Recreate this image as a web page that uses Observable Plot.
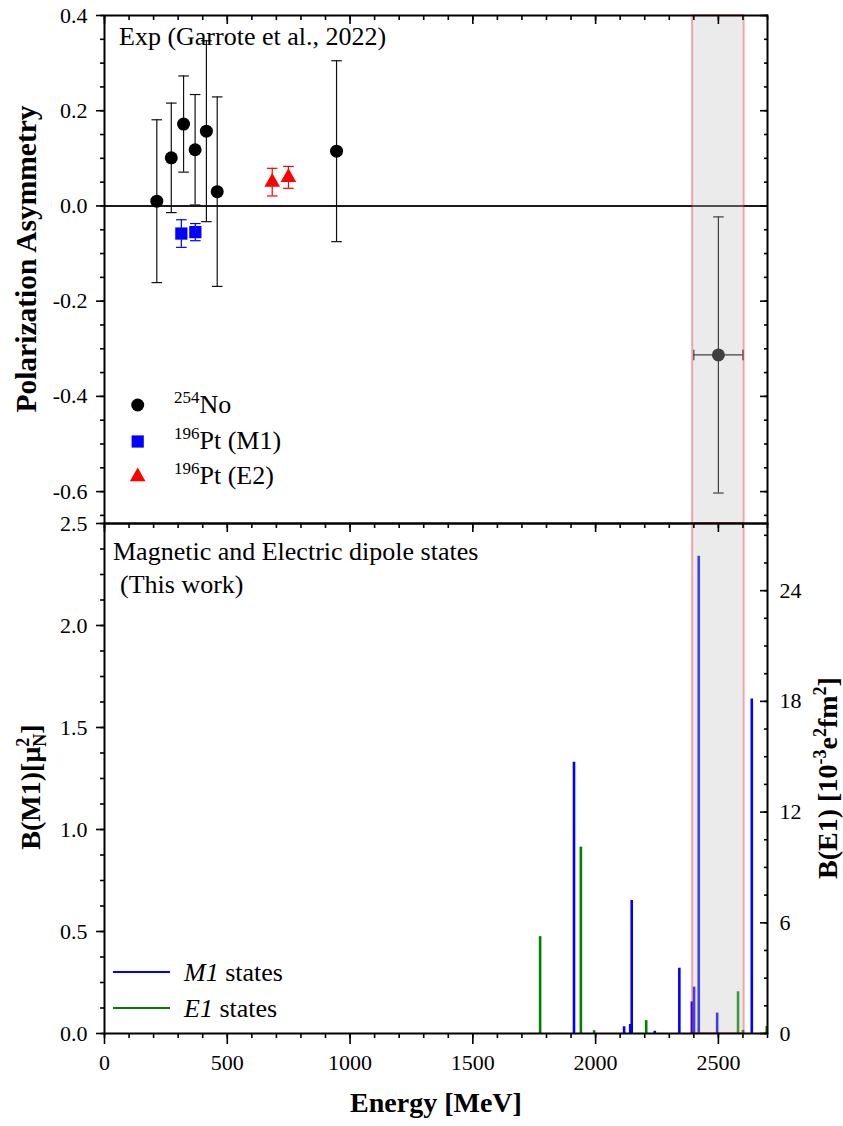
<!DOCTYPE html>
<html><head><meta charset="utf-8">
<script src="https://cdn.jsdelivr.net/npm/d3@7"></script>
<script src="https://cdn.jsdelivr.net/npm/@observablehq/plot@0.6"></script>
<style>
html,body{margin:0;padding:0;background:#fff;}
#wrap{position:relative;width:843px;height:1126px;font-family:"Liberation Serif",serif;}
#wrap > svg{display:block;overflow:visible;}
#wrap svg text, #wrap svg tspan, #wrap svg g{font-family:"Liberation Serif",serif !important;}
#ov{position:absolute;left:0;top:0;pointer-events:none;overflow:visible}
</style></head><body><div id="wrap"></div>
<script>
// ---------- data ----------
// 254No polarization asymmetry (Garrote et al., 2022)
const noEnergy = [213, 272, 322, 369, 415, 459, 945];
const noAsym   = [0.010, 0.101, 0.172, 0.118, 0.157, 0.030, 0.115];
const noErr    = [0.171, 0.115, 0.101, 0.116, 0.190, 0.199, 0.190];
// 196Pt (M1)
const ptM1Energy = [313, 370];
const ptM1Asym   = [-0.058, -0.055];
const ptM1Err    = [0.029, 0.018];
// 196Pt (E2)
const ptE2Energy = [683, 749];
const ptE2Asym   = [0.050, 0.060];
const ptE2Err    = [0.029, 0.023];
// point inside the shaded band
const newEnergy    = [2500];
const newEnergyErr = [100];
const newAsym      = [-0.313];
const newAsymErr   = [0.290];
// shaded energy band
const bandRange = [2395, 2605];
// M1 states: energy, B(M1) [muN^2]
const m1Energy   = [1912, 2116, 2141, 2147, 2241, 2341, 2392, 2401, 2420, 2495, 2636];
const m1Strength = [1.33, 0.033, 0.044, 0.652, 0.011, 0.32, 0.155, 0.227, 2.34, 0.10, 1.64];
// E1 states: energy, B(E1) [1e-3 e^2 fm^2]
const e1Energy   = [1774, 1940, 1994, 2206, 2580, 2600, 2697];
const e1Strength = [5.25, 10.1, 0.15, 0.70, 2.26, 0.17, 0.38];
// axes
const xDomain      = [0, 2700];
const xMajorTicks  = [0, 500, 1000, 1500, 2000, 2500];
const asymDomain   = [-0.667, 0.4];
const asymTicks    = [-0.6, -0.4, -0.2, 0.0, 0.2, 0.4];
const m1Domain     = [0, 2.5];
const m1Ticks      = [0, 0.5, 1.0, 1.5, 2.0, 2.5];
const e1Max        = 27.64;            // right axis top, 10^-3 e^2 fm^2
const e1Ticks      = [0, 6, 12, 18, 24];

// ---------- helpers ----------
const ratio = e1Max / m1Domain[1];
const xMinor = d3.range(0, 2701, 100);
const asymMinor = d3.range(-0.65, 0.401, 0.05);
const m1Minor = d3.range(0, 2.501, 0.125);
const e1Minor = d3.range(0, e1Max, 1.5).map(v => v / ratio);
const FONT = "Liberation Serif, serif";

const capH = {draw(ctx, size) { const r = Math.sqrt(size / Math.PI); ctx.moveTo(-r, 0); ctx.lineTo(r, 0); }};
const capV = {draw(ctx, size) { const r = Math.sqrt(size / Math.PI); ctx.moveTo(0, -r); ctx.lineTo(0, r); }};

const rows = (E, A, Er) => E.map((e, i) => ({e, a: A[i], err: Er[i]}));
const noRows = rows(noEnergy, noAsym, noErr);
const m1pRows = rows(ptM1Energy, ptM1Asym, ptM1Err);
const e2pRows = rows(ptE2Energy, ptE2Asym, ptE2Err);
const newRows = newEnergy.map((e, i) => ({e, ex: newEnergyErr[i], a: newAsym[i], err: newAsymErr[i]}));
const m1Rows = m1Energy.map((e, i) => ({e, b: m1Strength[i]}));
const e1Rows = e1Energy.map((e, i) => ({e, b: e1Strength[i] / ratio}));

function errMarks(data, color, sw = 1.2) {
  return [
    Plot.ruleX(data, {x: "e", y1: d => d.a - d.err, y2: d => d.a + d.err, stroke: color, strokeWidth: sw}),
    Plot.dot(data, {x: "e", y: d => d.a + d.err, symbol: capH, r: 5.3, stroke: color, fill: "none", strokeWidth: sw}),
    Plot.dot(data, {x: "e", y: d => d.a - d.err, symbol: capH, r: 5.3, stroke: color, fill: "none", strokeWidth: sw})
  ];
}
const tickW = 1.6;
const styleObj = {fontFamily: FONT, fontSize: "22px", color: "#000", background: "transparent", overflow: "visible"};
const txt = {fontFamily: FONT, fontSize: 22, fontVariant: "normal"};

// ---------- top panel ----------
const topPlot = Plot.plot({
  width: 843, height: 523, marginTop: 15, marginBottom: 0, marginLeft: 104, marginRight: 76,
  x: {domain: xDomain, label: null},
  y: {domain: asymDomain, label: null},
  style: styleObj,
  marks: [
    Plot.ruleY([0], {stroke: "#1a1a1a", strokeWidth: 2}),
    ...errMarks(noRows, "#111"),
    ...errMarks(m1pRows, "#0000ff"),
    ...errMarks(e2pRows, "#ff0000"),
    ...errMarks(newRows, "#000"),
    Plot.ruleY(newRows, {y: "a", x1: d => d.e - d.ex, x2: d => d.e + d.ex, stroke: "#000", strokeWidth: 1.2}),
    Plot.dot(newRows, {y: "a", x: d => d.e - d.ex, symbol: capV, r: 5.3, stroke: "#000", fill: "none", strokeWidth: 1.2}),
    Plot.dot(newRows, {y: "a", x: d => d.e + d.ex, symbol: capV, r: 5.3, stroke: "#000", fill: "none", strokeWidth: 1.2}),
    Plot.dot(noRows, {x: "e", y: "a", r: 6.5, fill: "#000"}),
    Plot.dot(newRows, {x: "e", y: "a", r: 6.5, fill: "#000"}),
    Plot.dot(m1pRows, {x: "e", y: "a", symbol: "square", r: 6.9, fill: "#0000ff"}),
    Plot.dot(e2pRows, {x: "e", y: "a", symbol: "triangle", r: 5.8, fill: "#ff0000"}),
    Plot.rect([bandRange], {x1: d => d[0], x2: d => d[1], y1: asymDomain[0], y2: asymDomain[1],
      fill: "#c2c2c2", fillOpacity: 0.33, stroke: "#ff0000", strokeOpacity: 0.33, strokeWidth: 2}),
    // axes
    Plot.axisY({anchor: "left", ticks: asymTicks, tickSize: 8, tickPadding: 9, strokeWidth: tickW,
      tickFormat: d => d.toFixed(1), label: null, ...txt}),
    Plot.axisY({anchor: "left", ticks: asymMinor, tickSize: 4, strokeWidth: tickW, fill: "none", label: null}),
    Plot.axisY({anchor: "right", ticks: asymTicks, tickSize: -8, strokeWidth: tickW, fill: "none", label: null}),
    Plot.axisY({anchor: "right", ticks: asymMinor, tickSize: -4, strokeWidth: tickW, fill: "none", label: null}),
    Plot.axisX({anchor: "top", ticks: xMajorTicks, tickSize: -8, strokeWidth: tickW, fill: "none", label: null}),
    Plot.axisX({anchor: "top", ticks: xMinor, tickSize: -4, strokeWidth: tickW, fill: "none", label: null}),
    Plot.frame({stroke: "#000", strokeWidth: 2})
  ]
});

// ---------- bottom panel ----------
const botPlot = Plot.plot({
  width: 843, height: 603, marginTop: 0, marginBottom: 93, marginLeft: 104, marginRight: 76,
  x: {domain: xDomain, label: null},
  y: {domain: m1Domain, label: null},
  style: styleObj,
  marks: [
    Plot.ruleX(e1Rows, {x: "e", y1: 0, y2: "b", stroke: "#008000", strokeWidth: 2.6}),
    Plot.ruleX(m1Rows, {x: "e", y1: 0, y2: "b", stroke: "#0000ff", strokeWidth: 2.6}),
    Plot.rect([bandRange], {x1: d => d[0], x2: d => d[1], y1: m1Domain[0], y2: m1Domain[1],
      fill: "#c2c2c2", fillOpacity: 0.33, stroke: "#ff0000", strokeOpacity: 0.33, strokeWidth: 2}),
    Plot.axisX({anchor: "bottom", ticks: xMajorTicks, tickSize: 11, tickPadding: 10, strokeWidth: tickW,
      tickFormat: d => String(d), label: null, ...txt}),
    Plot.axisX({anchor: "bottom", ticks: xMinor, tickSize: 5, strokeWidth: tickW, fill: "none", label: null}),
    Plot.axisX({anchor: "top", ticks: xMajorTicks, tickSize: -8, strokeWidth: tickW, fill: "none", label: null}),
    Plot.axisX({anchor: "top", ticks: xMinor, tickSize: -4, strokeWidth: tickW, fill: "none", label: null}),
    Plot.axisY({anchor: "left", ticks: m1Ticks, tickSize: 8, tickPadding: 9, strokeWidth: tickW,
      tickFormat: d => d.toFixed(1), label: null, ...txt}),
    Plot.axisY({anchor: "left", ticks: m1Minor, tickSize: 4, strokeWidth: tickW, fill: "none", label: null}),
    Plot.axisY({anchor: "right", ticks: e1Ticks.map(v => v / ratio), tickSize: -8, strokeWidth: tickW, fill: "none", label: null}),
    Plot.axisY({anchor: "right", ticks: e1Minor, tickSize: -4, strokeWidth: tickW, fill: "none", label: null}),
    Plot.axisY({anchor: "right", ticks: e1Ticks.map(v => v / ratio), tickSize: 0, tickPadding: 12,
      tickFormat: d => String(Math.round(d * ratio)), label: null, ...txt}),
    Plot.frame({stroke: "#000", strokeWidth: 2})
  ]
});

const wrap = document.getElementById("wrap");
wrap.appendChild(topPlot);
wrap.appendChild(botPlot);

// ---------- titles, legends, annotations ----------
const ov = `
<svg id="ov" width="843" height="1126" font-family="${FONT}" fill="#000">
  <text x="119" y="45" font-size="26">Exp (Garrote et al., 2022)</text>
  <circle cx="137.7" cy="405" r="6.5" fill="#000"/>
  <rect x="131.6" y="435.4" width="12.2" height="12.2" fill="#0000ff"/>
  <path d="M137.7,467.5 L145.5,481.3 L129.9,481.3 Z" fill="#ff0000"/>
  <text x="174" y="413" font-size="26"><tspan font-size="17" dy="-10">254</tspan><tspan dy="10">No</tspan></text>
  <text x="174" y="448.5" font-size="26"><tspan font-size="17" dy="-10">196</tspan><tspan dy="10">Pt (M1)</tspan></text>
  <text x="174" y="484" font-size="26"><tspan font-size="17" dy="-10">196</tspan><tspan dy="10">Pt (E2)</tspan></text>

  <text x="113" y="560" font-size="26">Magnetic and Electric dipole states</text>
  <text x="120" y="593" font-size="26">(This work)</text>
  <line x1="113" x2="170" y1="972" y2="972" stroke="#0000ff" stroke-width="2"/>
  <line x1="113" x2="170" y1="1008" y2="1008" stroke="#008000" stroke-width="2"/>
  <text x="184" y="981" font-size="26"><tspan font-style="italic">M1</tspan> states</text>
  <text x="184" y="1017" font-size="26"><tspan font-style="italic">E1</tspan> states</text>

  <text transform="translate(36,259) rotate(-90)" text-anchor="middle" font-size="29.5" font-weight="bold">Polarization Asymmetry</text>
  <text x="436" y="1112" text-anchor="middle" font-size="28" font-weight="bold">Energy [MeV]</text>
  <text transform="translate(40,787) rotate(-90)" text-anchor="middle" font-size="28" font-weight="bold">B(M1)[μ<tspan font-size="18" dy="-11">2</tspan><tspan font-size="18" dx="-9" dy="17">N</tspan><tspan dy="-6">]</tspan></text>
  <text transform="translate(837,778) rotate(-90)" text-anchor="middle" font-size="28" font-weight="bold">B(E1) [10<tspan font-size="18" dy="-11">-3</tspan><tspan dy="11">e</tspan><tspan font-size="18" dy="-11">2</tspan><tspan dy="11">fm</tspan><tspan font-size="18" dy="-11">2</tspan><tspan dy="11">]</tspan></text>
</svg>`;
wrap.insertAdjacentHTML("beforeend", ov);
</script>
</body></html>
